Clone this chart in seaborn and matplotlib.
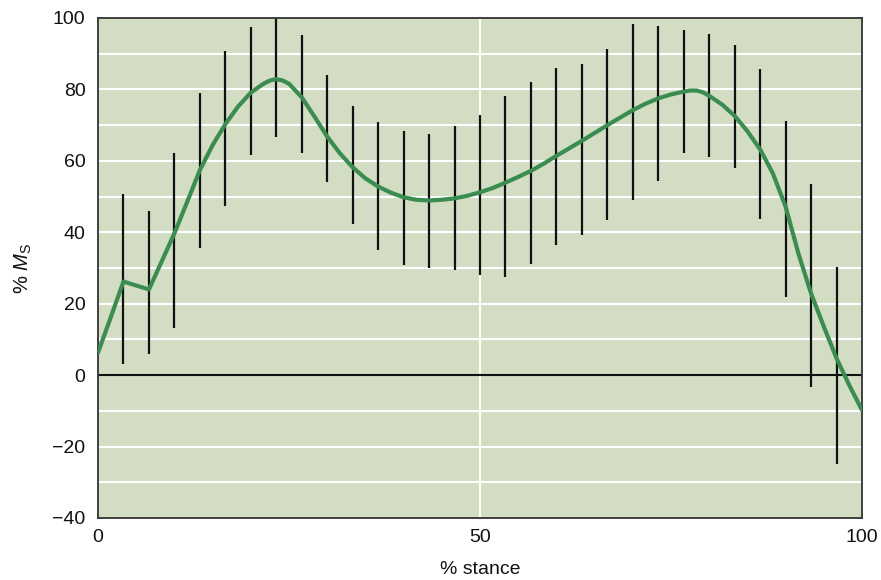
import numpy as np
import pandas as pd
import matplotlib
matplotlib.use("Agg")
import matplotlib.pyplot as plt
import seaborn as sns

# Mean support moment over stance (curve)
curve_x = [0, 1.67, 3.33, 5, 6.67, 8.33, 10, 11.67, 13.33, 15, 16.67, 18.33, 20,
           21.67, 22.5, 23.33, 24.17, 25, 26.67, 28.33, 30, 31.67, 33.33, 35, 36.67,
           38.33, 40, 41.67, 43.33, 45, 46.67, 48.33, 50, 51.67, 53.33, 55, 56.67,
           58.33, 60, 61.67, 63.33, 65, 66.67, 68.33, 70, 71.67, 73.33, 75, 76.67,
           77.5, 78.33, 79.17, 80, 81.67, 83.33, 85, 86.67, 88.33, 90, 91.67, 93.33,
           95, 96.67, 98.33, 100]
curve_y = [6.3, 16.2, 26.2, 25.1, 24.0, 31.8, 39.7, 48.5, 57.4, 64.4, 70.3, 75.2, 79.1,
           81.6, 82.5, 82.9, 82.5, 81.6, 77.8, 72.4, 66.8, 62.1, 58.2, 55.1, 52.8,
           51.1, 49.8, 49.1, 48.9, 49.1, 49.5, 50.2, 51.2, 52.4, 53.9, 55.5, 57.2,
           59.2, 61.4, 63.5, 65.6, 67.8, 70.0, 72.1, 74.2, 76.0, 77.5, 78.6, 79.4,
           79.7, 79.7, 79.2, 78.2, 75.8, 72.6, 68.3, 63.2, 56.5, 47.2, 34.1, 22.9,
           13.6, 4.7, -2.8, -9.8]

# Variability bars (upper / lower limits)
bar_x = [3.33, 6.67, 10, 13.33, 16.67, 20, 23.33, 26.67, 30, 33.33, 36.67, 40,
         43.33, 46.67, 50, 53.33, 56.67, 60, 63.33, 66.67, 70, 73.33, 76.67, 80,
         83.33, 86.67, 90, 93.33, 96.67]
bar_upper = [50.7, 46.0, 62.1, 78.9, 90.7, 97.5, 99.6, 95.2, 84.0, 75.3, 70.8, 68.3,
             67.4, 69.7, 72.8, 78.3, 82.1, 85.9, 87.1, 91.2, 98.3, 97.8, 96.6, 95.5,
             92.4, 85.7, 71.2, 53.5, 30.3]
bar_lower = [3.0, 5.8, 13.1, 35.7, 47.4, 61.7, 66.8, 62.3, 54.1, 42.4, 35.1, 30.8,
             30.1, 29.5, 28.1, 27.6, 31.2, 36.5, 39.3, 43.5, 49.1, 54.4, 62.3, 61.2,
             58.1, 43.8, 22.0, -3.2, -25.0]

x_ticks = [0, 50, 100]
y_ticks = [-40, -20, 0, 20, 40, 60, 80, 100]

sns.set_theme(style="white")
plt.rcParams["font.family"] = ["Liberation Sans", "DejaVu Sans"]
plt.rcParams["mathtext.fontset"] = "custom"
plt.rcParams["mathtext.rm"] = "Liberation Sans"
plt.rcParams["mathtext.it"] = "Liberation Sans:italic"
plt.rcParams["axes.unicode_minus"] = True

fig = plt.figure(figsize=(8.81, 5.80), dpi=100)
ax = fig.add_axes([98 / 881, 1 - 518 / 580, (862 - 98) / 881, (518 - 18) / 580])
ax.set_facecolor("#d2ddc4")

# grid: white horizontal lines every 10, one vertical line at 50
for gy in range(-30, 100, 10):
    if gy != 0:
        ax.axhline(gy, color="white", lw=1.5, zorder=1)
ax.axvline(50, color="white", lw=1.5, zorder=1)
ax.axhline(0, color="#111111", lw=1.5, zorder=2)

curve = pd.DataFrame({"stance": curve_x, "ms": curve_y})
sns.lineplot(data=curve, x="stance", y="ms", sort=False, color="#3b8c50",
             lw=3.0, ax=ax, zorder=4, solid_joinstyle="round", solid_capstyle="round")
ax.vlines(bar_x, bar_lower, bar_upper, color="#111111", lw=1.6, zorder=3)

ax.set_xlim(0, 100)
ax.set_ylim(-40, 100)
ax.set_xticks(x_ticks)
ax.set_yticks(y_ticks)
ax.tick_params(axis="both", length=0, labelsize=14, colors="#111111")
ax.tick_params(axis="y", pad=9)
ax.tick_params(axis="x", pad=8)
for s in ax.spines.values():
    s.set_color("#333333")
    s.set_linewidth(1.3)
    s.set_visible(True)

ax.set_xlabel("% stance", fontsize=14, labelpad=11, color="#111111")
ax.set_ylabel(r"% $\mathit{M}_\mathrm{S}$", fontsize=14.5, labelpad=13, color="#111111")

fig.savefig("out.png", dpi=100)
